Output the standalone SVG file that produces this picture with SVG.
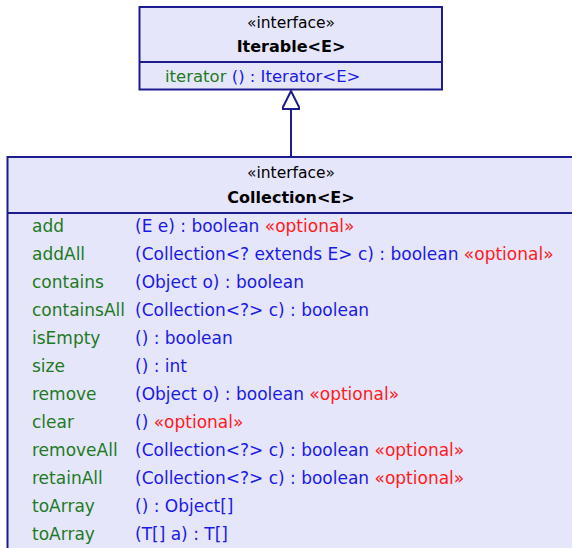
<svg xmlns="http://www.w3.org/2000/svg" width="572" height="548" viewBox="0 0 572 548">
<style>
.box{fill:#e6e6fb;stroke:#1c1c8c;stroke-width:2}
.div{stroke:#1c1c8c;stroke-width:2}
text{font-family:"DejaVu Sans","Liberation Sans",sans-serif;font-size:17px}
.st{font-size:15.5px;fill:#000;text-anchor:middle}
.nm{font-weight:bold;font-size:16px;fill:#000;text-anchor:middle}
.g{fill:#1e7a1e}
.b{fill:#1a1ae6}
.r{fill:#ff1a1a}
.con{stroke:#1c1c8c;stroke-width:2;fill:none}
</style>
<defs>
<marker id="tri" markerWidth="22" markerHeight="18" refX="20" refY="9" orient="auto" markerUnits="userSpaceOnUse">
<path d="M20,9 L2,0 L2,18 Z" fill="#fff" stroke="#1c1c8c" stroke-width="2"/>
</marker>
</defs>
<g id="Iterable">
<rect class="box" x="139.5" y="7" width="302.5" height="82.5"/>
<line class="div" x1="139.5" y1="62" x2="442" y2="62"/>
<text class="st" x="291" y="28">«interface»</text>
<text class="nm" x="291" y="52">Iterable&lt;E&gt;</text>
<text x="165" y="82" style="font-size:16.5px"><tspan class="g">iterator</tspan><tspan class="b"> () : Iterator&lt;E&gt;</tspan></text>
</g>
<g id="Collection">
<rect class="box" x="7.5" y="157" width="600" height="420"/>
<line class="div" x1="7.5" y1="213" x2="608" y2="213"/>
<text class="st" x="291" y="178">«interface»</text>
<text class="nm" x="291" y="203">Collection&lt;E&gt;</text>
<g class="g">
<text x="32" y="232.3">add</text>
<text x="32" y="260.3">addAll</text>
<text x="32" y="288.3">contains</text>
<text x="32" y="316.3">containsAll</text>
<text x="32" y="344.3">isEmpty</text>
<text x="32" y="372.3">size</text>
<text x="32" y="400.3">remove</text>
<text x="32" y="428.3">clear</text>
<text x="32" y="456.3">removeAll</text>
<text x="32" y="484.3">retainAll</text>
<text x="32" y="512.3">toArray</text>
<text x="32" y="540.3">toArray</text>
</g>
<g class="b">
<text x="135" y="232.3">(E e) : boolean <tspan class="r">«optional»</tspan></text>
<text x="135" y="260.3">(Collection&lt;? extends E&gt; c) : boolean <tspan class="r">«optional»</tspan></text>
<text x="135" y="288.3">(Object o) : boolean</text>
<text x="135" y="316.3">(Collection&lt;?&gt; c) : boolean</text>
<text x="135" y="344.3">() : boolean</text>
<text x="135" y="372.3">() : int</text>
<text x="135" y="400.3">(Object o) : boolean <tspan class="r">«optional»</tspan></text>
<text x="135" y="428.3">() <tspan class="r">«optional»</tspan></text>
<text x="135" y="456.3">(Collection&lt;?&gt; c) : boolean <tspan class="r">«optional»</tspan></text>
<text x="135" y="484.3">(Collection&lt;?&gt; c) : boolean <tspan class="r">«optional»</tspan></text>
<text x="135" y="512.3">() : Object[]</text>
<text x="135" y="540.3">(T[] a) : T[]</text>
</g>
</g>
<g id="connectors">
<line class="con" x1="291" y1="157" x2="291" y2="91" marker-end="url(#tri)"/>
</g>
</svg>
